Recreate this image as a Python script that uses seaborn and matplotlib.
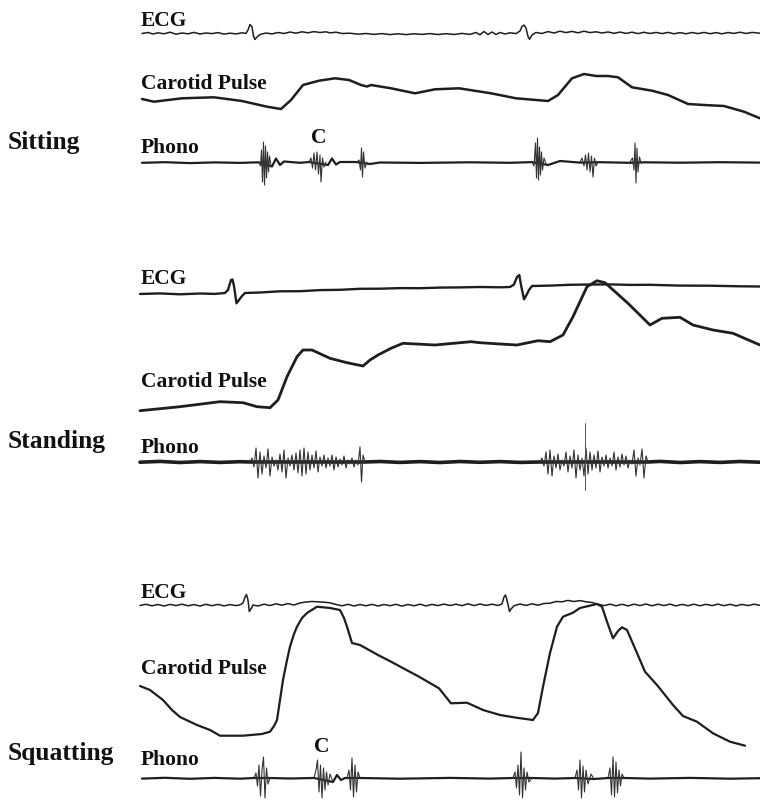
import matplotlib
matplotlib.use("Agg")
import matplotlib.pyplot as plt
import seaborn as sns

# Trace data (x = time in px, y = px from top)

# --- Sitting ---
sit_ecg_x = [142, 148, 153, 158, 164, 170, 176, 182, 188, 194, 200, 206, 212, 218, 224, 230, 236, 242, 246, 248,
             250, 252, 253.5, 255, 257, 260, 266, 272, 278, 284, 290, 296, 302, 308, 314, 320, 326, 330, 336, 342,
             350, 358, 366, 374, 382, 390, 398, 406, 414, 422, 430, 438, 446, 454, 462, 470, 476, 480, 484, 488,
             492, 496, 500, 505, 510, 516, 520, 522, 524, 526, 528, 529.5, 532, 536, 542, 548, 554, 560, 566, 572,
             578, 584, 590, 596, 602, 608, 614, 620, 626, 632, 638, 644, 650, 656, 662, 668, 674, 680, 686, 692,
             698, 704, 710, 716, 722, 728, 734, 740, 746, 752, 760]
sit_ecg_y = [33.5, 32.5, 34, 32.8, 33.8, 32.2, 34.2, 33, 33.8, 32.4, 34, 33, 33.6, 32.6, 34.1, 33.2, 33.9, 32.8, 33.4, 30,
             24.5, 27, 36, 39.5, 37, 34.5, 33, 33.9, 32.5, 33.5, 32, 33.2, 31.8, 32.8, 31.6, 32.5, 31.8, 32.9, 32.2, 33.5,
             33.2, 34.2, 33.5, 34.4, 33.6, 34.6, 33.8, 34.6, 33.8, 34.4, 33.6, 34.5, 33.7, 34.5, 33.4, 34.4, 32.5, 34.8, 31.5, 34.5,
             32, 34.5, 32.5, 34, 32.8, 33.6, 31, 26.5, 25, 28, 36.5, 39.3, 35, 32.5, 33.5, 31.6, 33, 31.2, 32.6, 31.4,
             32.8, 31.2, 32.6, 31.8, 33, 32, 33.3, 32.1, 33.4, 32.2, 33.6, 32.3, 33.5, 32.4, 33.6, 32.4, 33.8, 32.6, 33.8, 32.5,
             33.6, 32.4, 33.7, 32.6, 33.8, 32.5, 33.4, 32.2, 33.5, 32.4, 33.2]

sit_car_x = [142, 154, 182, 214, 242, 267, 281, 291, 303, 319, 335, 349, 361, 367, 371, 391, 415, 435, 459, 491,
             516, 548, 558, 572, 584, 596, 608, 618, 632, 652, 668, 688, 704, 724, 744, 760]
sit_car_y = [99, 101.7, 98.3, 97.3, 101, 106.7, 109, 100, 85, 80.7, 78.3, 80, 85, 86.5, 85, 88.3, 93.3, 89.3, 88.3, 93.3,
             98.3, 101, 95, 78.3, 74, 76, 76, 77.3, 87.3, 90.7, 95, 104, 105, 106, 111.7, 118.3]

sit_pcg_x = [142, 165, 190, 215, 240, 258, 272, 276, 280, 284, 300, 309, 328, 332, 336, 340, 356, 370, 380, 420,
             470, 510, 532, 548, 560, 580, 600, 630, 645, 680, 720, 760]
sit_pcg_y = [162.8, 162.2, 163.1, 162.4, 162.9, 162.3, 166.5, 158.5, 165, 161.5, 162.8, 162, 165, 158.5, 164.5, 162, 162, 164, 162.5, 162.9,
             162.3, 162.8, 162.1, 165, 161, 162.6, 162.2, 162.8, 162.3, 162.7, 162.2, 162.6]
sit_bursts_x = [[259, 260.5, 261.5, 262.5, 263.5, 264.5, 265.5, 266.5, 267.5, 268.5, 269.5, 271],
                [309, 311, 312.5, 314, 315.5, 317, 318.5, 320, 321, 322.5, 324, 326],
                [357, 359, 360.5, 361.5, 362.5, 363.5, 365, 367],
                [532, 534, 535.5, 536.5, 537.5, 538.5, 539.5, 540.5, 541.5, 542.5, 544, 546],
                [580, 582, 584, 585.5, 587, 588.5, 590, 591.5, 593, 594.5, 596, 598],
                [630, 632.5, 634, 635, 636, 637, 638, 639.5, 641]]
sit_bursts_y = [[162, 166, 150, 182, 142, 185, 146, 178, 152, 172, 156, 166],
                [162, 158, 168, 153, 170, 152, 174, 155, 182, 158, 167, 162],
                [162, 160, 170, 148, 177, 152, 168, 162],
                [162, 166, 143, 178, 138, 180, 147, 175, 152, 170, 158, 164],
                [162, 158, 166, 155, 170, 153, 172, 156, 177, 158, 166, 162],
                [162, 158, 170, 143, 183, 148, 172, 157, 163]]

# --- Standing ---
std_ecg_x = [140, 160, 180, 200, 215, 225, 228, 231, 232.5, 234, 236.5, 239, 242, 245, 260, 280, 300, 320, 340, 360,
             380, 400, 420, 440, 460, 480, 500, 510, 514, 517, 519.3, 521, 524, 526.5, 529, 532, 550, 570, 590, 610,
             630, 650, 680, 710, 740, 760]
std_ecg_y = [294, 293.4, 294.3, 293.5, 293.9, 293, 290, 280, 279.5, 286, 303.3, 300, 296, 293, 292.5, 291.3, 291.2, 290.1, 289.8, 288.8,
             288.7, 288.1, 288.2, 287.6, 287.4, 287, 287.3, 287, 284.5, 277, 275, 285, 299.3, 295, 290, 286, 285.6, 284.8, 284.5, 284.4,
             284.9, 284.8, 285.6, 285.7, 286.3, 286.5]

std_car_x = [140, 180, 220, 243, 257, 270, 278, 287, 297, 303, 312, 330, 347, 363, 370, 378, 391, 403, 435, 471,
             480, 500, 517, 538, 550, 563, 573, 587, 597, 605, 628, 650, 662, 680, 693, 713, 733, 760]
std_car_y = [410.7, 406.7, 401.7, 402.7, 406.7, 407.7, 400, 376.7, 356.7, 350, 350, 358.3, 362.7, 366, 360, 355, 348.3, 343.3, 345, 341.7,
             342.7, 344, 345, 340.7, 341.7, 335, 316.7, 286.7, 280.7, 282.7, 303.3, 325, 318.3, 317.3, 325, 330, 333.3, 345]

std_pcg_x = [140, 160, 180, 200, 220, 240, 250, 365, 380, 400, 420, 440, 460, 480, 500, 520, 540, 648, 660, 680,
             700, 720, 740, 760]
std_pcg_y = [462.2, 461.4, 462.5, 461.6, 462.4, 461.7, 462, 462, 461.5, 462.4, 461.6, 462.5, 461.5, 462.3, 461.6, 462.4, 462, 462, 461.4, 462.5,
             461.6, 462.4, 461.5, 462.2]
std_bursts_x = [[250, 252, 254, 256, 258, 260, 262, 264, 266, 268, 270, 272, 274, 276, 278, 280, 282, 284, 286, 288,
                 290, 292, 294, 296, 298, 300, 302, 304, 306, 308, 310, 312, 314, 316, 318, 320, 322, 324, 326, 328,
                 330, 332, 334, 336, 338, 340, 342, 344, 346, 348, 350, 352, 354, 356, 358, 360, 361.5, 363, 365],
                [540, 542, 544, 546, 548, 550, 552, 554, 556, 558, 560, 562, 564, 566, 568, 570, 572, 574, 576, 578,
                 580, 582, 584, 586, 588, 590, 592, 594, 596, 598, 600, 602, 604, 606, 608, 610, 612, 614, 616, 618,
                 620, 622, 624, 626, 628, 630, 632, 634, 636, 638, 640, 642, 644, 646, 648]]
std_bursts_y = [[462, 458, 467, 448, 478, 452, 474, 456, 468, 449, 476, 457, 466, 460, 470, 454, 472, 450, 478, 458,
                 466, 455, 470, 453, 473, 450, 476, 448, 474, 452, 470, 455, 468, 451, 472, 457, 466, 455, 468, 458,
                 466, 455, 470, 457, 467, 459, 465, 456, 468, 460, 464, 458, 467, 460, 465, 447, 482, 455, 462],
                [462, 458, 466, 452, 474, 450, 476, 456, 468, 454, 470, 460, 466, 452, 472, 456, 468, 450, 478, 455,
                 470, 458, 476, 448, 474, 452, 470, 455, 468, 451, 472, 457, 466, 455, 468, 458, 466, 452, 470, 457,
                 467, 454, 465, 456, 468, 460, 464, 450, 476, 458, 465, 449, 478, 456, 462]]
std_spike_x = [585, 585, 585]
std_spike_y = [423, 462, 490]

# --- Squatting ---
sq_ecg_x = [140, 146, 152, 158, 164, 170, 176, 182, 188, 194, 200, 206, 212, 218, 224, 230, 236, 240, 243, 245,
            246.5, 248, 249.3, 251, 253, 258, 264, 270, 276, 282, 288, 294, 300, 306, 312, 318, 324, 330, 336, 342,
            348, 354, 360, 366, 372, 378, 384, 390, 396, 402, 408, 414, 420, 426, 432, 438, 444, 450, 456, 462,
            468, 474, 480, 486, 492, 498, 502, 504, 505.5, 507, 509.5, 511, 514, 520, 526, 532, 538, 544, 550, 556,
            562, 568, 574, 580, 586, 592, 598, 604, 610, 616, 622, 628, 634, 640, 646, 652, 658, 664, 670, 676,
            682, 688, 694, 700, 706, 712, 718, 724, 730, 736, 742, 748, 754, 760]
sq_ecg_y = [605.5, 604.3, 605.8, 604.5, 606, 604.4, 605.6, 604.2, 605.8, 604.6, 606, 604.3, 605.7, 604.4, 605.9, 604.6, 605.6, 604.8, 603, 597,
            594.5, 600, 611.5, 609, 605, 606, 604.2, 605.5, 603.8, 605.2, 603.6, 605, 603, 602, 601.5, 601.8, 602.2, 602.8, 604.5, 605.8,
            604.3, 606, 604.5, 605.8, 604.4, 606, 604.5, 605.7, 604.3, 606.1, 604.5, 605.8, 604.2, 605.9, 604.4, 605.6, 604.1, 605.5, 604.2, 605.7,
            603.8, 605.6, 604, 605.4, 604.2, 605.5, 604, 597, 595, 600, 611.5, 609, 605.8, 604, 605.4, 603.8, 605.2, 603.5, 603.2, 601.5,
            601.8, 600.4, 601.5, 600.6, 601.8, 602.5, 604.2, 605.6, 604.2, 605.8, 604.3, 605.9, 604.2, 605.6, 604, 605.8, 604.2, 605.6, 604.1, 605.9,
            604.4, 605.7, 604.2, 605.8, 604.3, 605.6, 604.1, 605.7, 604.3, 605.9, 604.4, 605.6, 604.2, 605.3]

sq_car_x = [140, 150, 163, 172, 180, 197, 210, 220, 243, 262, 270, 274, 277, 280, 283, 287, 290, 294, 297, 302,
            307, 317, 330, 340, 344, 347, 352, 360, 378, 391, 419, 439, 451, 467, 483, 500, 515, 533, 538, 543,
            550, 557, 563, 573, 580, 597, 602, 607, 613, 618, 622, 627, 637, 645, 657, 673, 683, 697, 713, 730,
            745]
sq_car_y = [686, 690, 700, 710, 717, 725, 730, 735.7, 735.7, 734, 731.7, 726, 720, 700, 680, 660, 646.7, 634, 626.7, 618,
            613, 606.7, 608, 610, 618, 626.7, 643, 645, 655, 661.7, 676.7, 688.3, 703.3, 702.7, 710, 715, 717.5, 720, 713, 686.7,
            653, 626.7, 616.7, 612.7, 608, 604, 606.7, 621.7, 638.3, 631, 627.3, 630, 653, 671.7, 685, 705, 716, 721.7, 733.3, 741.7,
            745.7]

sq_pcg_x = [142, 165, 190, 215, 240, 254, 270, 290, 314, 333, 337, 341, 345, 360, 400, 450, 490, 513, 532, 555,
            575, 594, 608, 624, 650, 690, 730, 760]
sq_pcg_y = [778.6, 777.8, 778.8, 777.9, 778.7, 778, 778, 778.5, 778, 782, 775, 780, 778, 778, 778.7, 777.9, 778.6, 778, 778, 778.6,
            778, 779, 778, 778, 778.6, 777.9, 778.7, 778.2]
sq_bursts_x = [[254, 256, 257.5, 259, 260.5, 262, 263.5, 265, 266.5, 268, 270],
               [314, 316, 317.5, 319, 320.5, 322, 323.5, 325, 326.5, 328, 330, 333],
               [347, 349, 350.5, 352, 353.5, 355, 356.5, 358, 360],
               [513, 515, 516.5, 518, 519.5, 521, 522.5, 524, 525.5, 527, 529, 532],
               [575, 577, 578.5, 580, 581.5, 583, 584.5, 586, 588, 591, 594],
               [608, 610, 611.5, 613, 614.5, 616, 617.5, 619, 620.5, 622, 624]]
sq_bursts_y = [[778, 773, 786, 765, 796, 770, 757, 798, 768, 784, 778],
               [778, 770, 760, 792, 765, 798, 768, 790, 772, 785, 774, 782],
               [778, 770, 790, 758, 797, 765, 792, 772, 778],
               [778, 772, 788, 765, 795, 752, 798, 768, 790, 772, 782, 778],
               [778, 770, 790, 760, 798, 766, 792, 770, 784, 774, 779],
               [778, 768, 795, 757, 797, 762, 793, 770, 786, 774, 778]]

# Labels
postures = ["Sitting", "Standing", "Squatting"]
posture_y = [149, 448, 760]
trace_labels = ["ECG", "Carotid Pulse", "Phono"]
trace_label_y = [[26, 89, 153], [284, 387, 453], [598, 674, 765]]
c_marks = [(319, 143), (322, 752)]

sns.set_style("white")
plt.rcParams['font.family'] = ['Liberation Serif', 'DejaVu Serif']

fig = plt.figure(figsize=(7.6, 8.0), dpi=100)
ax = fig.add_axes([0, 0, 1, 1])
ink = "#1e1e1e"


def trace(x, y, lw, color=ink):
    sns.lineplot(x=x, y=y, ax=ax, sort=False, estimator=None, color=color,
                 linewidth=lw, solid_joinstyle="round")


# sitting
trace(sit_ecg_x, sit_ecg_y, 1.1)
trace(sit_car_x, sit_car_y, 1.8)
trace(sit_pcg_x, sit_pcg_y, 1.6)
for bx, by in zip(sit_bursts_x, sit_bursts_y):
    trace(bx, by, 0.8, "#333333")

# standing
trace(std_ecg_x, std_ecg_y, 1.7)
trace(std_car_x, std_car_y, 2.0)
trace(std_pcg_x, std_pcg_y, 2.6)
for bx, by in zip(std_bursts_x, std_bursts_y):
    trace(bx, by, 0.8, "#333333")
trace(std_spike_x, std_spike_y, 0.7, "#555555")

# squatting
trace(sq_ecg_x, sq_ecg_y, 1.1)
trace(sq_car_x, sq_car_y, 1.6)
trace(sq_pcg_x, sq_pcg_y, 1.6)
for bx, by in zip(sq_bursts_x, sq_bursts_y):
    trace(bx, by, 0.8, "#333333")

for name, yb in zip(postures, posture_y):
    ax.text(8, yb, name, fontsize=18.4, fontweight="bold", va="baseline", ha="left", color="#111111")
for ys in trace_label_y:
    for lab, yb in zip(trace_labels, ys):
        ax.text(141, yb, lab, fontsize=15.5, fontweight="bold", va="baseline", ha="left", color="#111111")
for cx, cy in c_marks:
    ax.text(cx, cy, "C", fontsize=15.5, fontweight="bold", va="baseline", ha="center", color="#111111")

ax.set_xlim(0, 760)
ax.set_ylim(800, 0)
ax.axis("off")

fig.savefig("out.png", dpi=100)
